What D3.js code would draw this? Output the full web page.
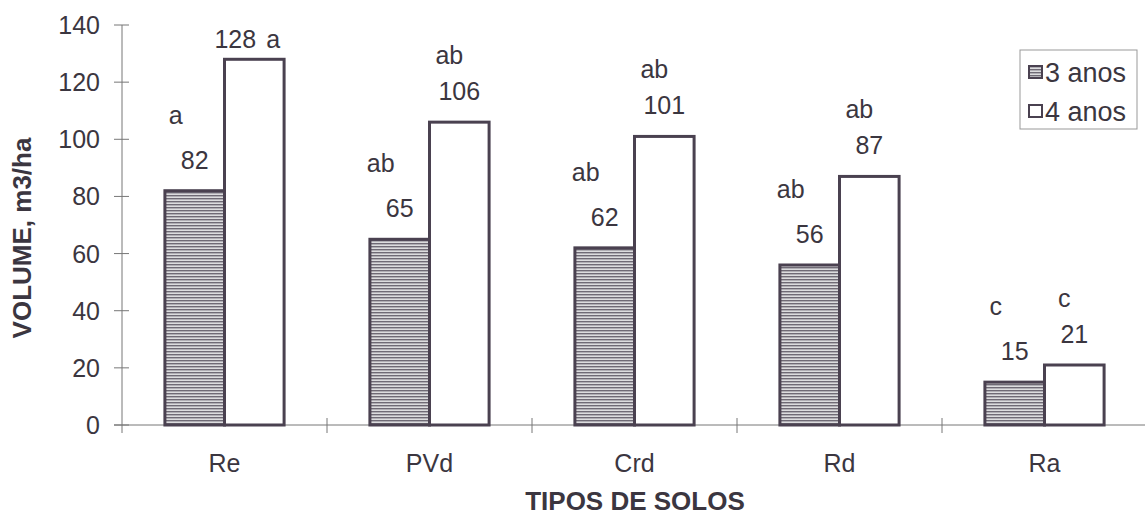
<!doctype html>
<html>
<head>
<meta charset="utf-8">
<script src="https://cdnjs.cloudflare.com/ajax/libs/d3/7.8.5/d3.min.js"></script>
<style>
  body { margin: 0; background: #fff; }
  svg text { font-family: "Liberation Sans", Arial, sans-serif; fill: #3b3640; }
</style>
</head>
<body>
<svg id="chart" width="1145" height="521"></svg>
<script>
// data
var soils = ["Re", "PVd", "Crd", "Rd", "Ra"];
var seriesNames = ["3 anos", "4 anos"];
var vol3 = [82, 65, 62, 56, 15];
var vol4 = [128, 106, 101, 87, 21];
var letters3 = ["a", "ab", "ab", "ab", "c"];
var letters4 = ["a", "ab", "ab", "ab", "c"];
var yTicks = [0, 20, 40, 60, 80, 100, 120, 140];

var ink = "#4a4150";
var fs = "25px";
var svg = d3.select("#chart");

// striped fill for the 3 anos bars
var defs = svg.append("defs");
var pat = defs.append("pattern")
  .attr("id", "stripes")
  .attr("patternUnits", "userSpaceOnUse")
  .attr("width", 4).attr("height", 3);
pat.append("rect").attr("width", 4).attr("height", 3).attr("fill", "#dcdcde");
pat.append("rect").attr("width", 4).attr("height", 1.4).attr("fill", "#6f6a75");

var x = d3.scaleBand().domain(soils).range([122, 1147]).paddingInner(0).paddingOuter(0);
var xs = d3.scaleBand().domain(seriesNames).range([0, x.bandwidth()]).paddingInner(0).paddingOuter(0.72);
var y = d3.scaleLinear().domain([0, 140]).range([425, 25]);

// y axis
var yAxis = svg.append("g");
yAxis.append("line")
  .attr("x1", 122).attr("x2", 122)
  .attr("y1", y(140)).attr("y2", y(0) + 8)
  .attr("stroke", "#777").attr("stroke-width", 1);
yAxis.selectAll(".yt").data(yTicks).enter().append("line")
  .attr("x1", 114).attr("x2", 129)
  .attr("y1", function(d) { return y(d); })
  .attr("y2", function(d) { return y(d); })
  .attr("stroke", "#777");
yAxis.selectAll(".yl").data(yTicks).enter().append("text")
  .attr("x", 100)
  .attr("y", function(d) { return y(d); })
  .attr("dy", "0.36em")
  .attr("text-anchor", "end")
  .style("font-size", fs)
  .text(function(d) { return d; });

// x axis
svg.append("line")
  .attr("x1", 114).attr("x2", 1145)
  .attr("y1", y(0)).attr("y2", y(0))
  .attr("stroke", "#777");
svg.selectAll(".xt").data(soils.slice(1)).enter().append("line")
  .attr("x1", function(d) { return x(d); })
  .attr("x2", function(d) { return x(d); })
  .attr("y1", y(0) - 7).attr("y2", y(0) + 8)
  .attr("stroke", "#777");
svg.selectAll(".xl").data(soils).enter().append("text")
  .attr("x", function(d) { return x(d) + x.bandwidth() / 2; })
  .attr("y", 472)
  .attr("text-anchor", "middle")
  .style("font-size", fs)
  .text(function(d) { return d; });

// bars
var rows = [];
soils.forEach(function(s, i) {
  rows.push({ soil: s, series: seriesNames[0], v: vol3[i], letter: letters3[i], k: 0 });
  rows.push({ soil: s, series: seriesNames[1], v: vol4[i], letter: letters4[i], k: 1 });
});

svg.selectAll(".bar").data(rows).enter().append("rect")
  .attr("x", function(d) { return x(d.soil) + xs(d.series); })
  .attr("y", function(d) { return y(d.v); })
  .attr("width", xs.bandwidth())
  .attr("height", function(d) { return y(0) - y(d.v); })
  .attr("fill", function(d) { return d.k === 0 ? "url(#stripes)" : "#fff"; })
  .attr("stroke", ink)
  .attr("stroke-width", 3);

// value labels and significance letters
rows.forEach(function(d) {
  var cx = x(d.soil) + xs(d.series) + xs.bandwidth() / 2;
  var base = y(d.v) - 22;
  if (base - 40 < 20) {
    // no room above: letter goes on the same line
    base = y(d.v) - 11;
    svg.append("text").attr("x", cx - 19).attr("y", base).attr("text-anchor", "middle")
      .style("font-size", fs).text(d.v);
    svg.append("text").attr("x", cx + 19).attr("y", base).attr("text-anchor", "middle")
      .style("font-size", fs).text(d.letter);
  } else {
    svg.append("text").attr("x", cx).attr("y", base).attr("text-anchor", "middle")
      .style("font-size", fs).text(d.v);
    var dx = d.k === 0 ? -19 : -10;
    var dy = d.k === 0 ? -45 : -36;
    svg.append("text").attr("x", cx + dx).attr("y", base + dy).attr("text-anchor", "middle")
      .style("font-size", fs).text(d.letter);
  }
});

// axis titles
svg.append("text")
  .attr("transform", "translate(31,238) rotate(-90)")
  .attr("text-anchor", "middle")
  .style("font-size", "26px").style("font-weight", "bold")
  .text("VOLUME, m3/ha");
svg.append("text")
  .attr("x", 635).attr("y", 510)
  .attr("text-anchor", "middle")
  .style("font-size", "26px").style("font-weight", "bold")
  .text("TIPOS DE SOLOS");

// legend
var lg = svg.append("g");
lg.append("rect")
  .attr("x", 1020).attr("y", 50).attr("width", 117).attr("height", 79)
  .attr("fill", "#fff").attr("stroke", "#999").attr("stroke-width", 1);
seriesNames.forEach(function(n, i) {
  var yy = 72 + i * 39;
  lg.append("rect")
    .attr("x", 1029).attr("y", yy - 6).attr("width", 13).attr("height", 12)
    .attr("fill", i === 0 ? "url(#stripes)" : "#fff")
    .attr("stroke", ink).attr("stroke-width", 2);
  lg.append("text")
    .attr("x", 1045).attr("y", yy).attr("dy", "0.36em")
    .style("font-size", "27px")
    .text(n);
});
</script>
</body>
</html>
